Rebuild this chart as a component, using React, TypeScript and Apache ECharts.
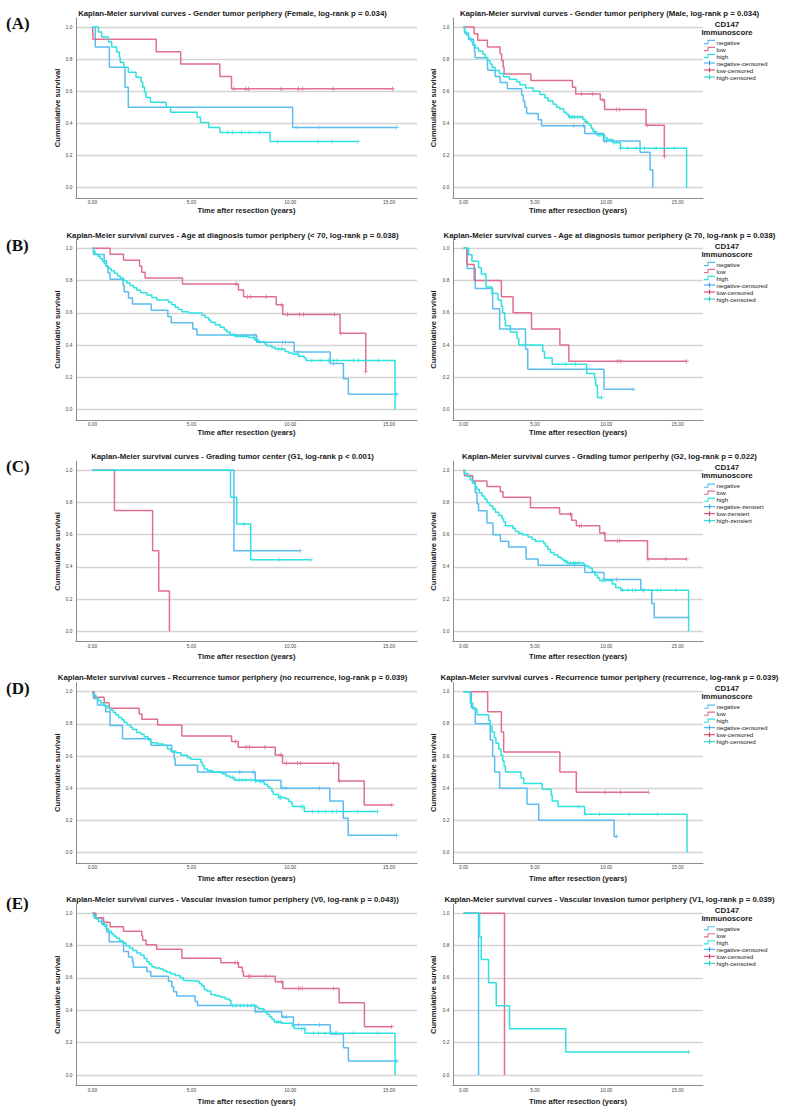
import React, { useEffect, useRef } from "react";
import * as echarts from "echarts";

type Pt = [number, number];

// ---------- texts ----------
const panelTitles = [
  "Kaplan-Meier survival curves - Gender tumor periphery (Female, log-rank p = 0.034)",
  "Kaplan-Meier survival curves - Gender tumor periphery (Male, log-rank p = 0.034)",
  "Kaplan-Meier survival curves - Age at diagnosis tumor periphery (< 70, log-rank p = 0.038)",
  "Kaplan-Meier survival curves - Age at diagnosis tumor periphery (\u2265 70, log-rank p = 0.038)",
  "Kaplan-Meier survival curves - Grading tumor center (G1, log-rank p < 0.001)",
  "Kaplan-Meier survival curves - Grading tumor periperhy (G2, log-rank p = 0.022)",
  "Kaplan-Meier survival curves - Recurrence tumor periphery (no recurrence, log-rank p = 0.039)",
  "Kaplan-Meier survival curves - Recurrence tumor periphery (recurrence, log-rank p = 0.039)",
  "Kaplan-Meier survival curves - Vascular invasion tumor periphery (V0, log-rank p = 0.043))",
  "Kaplan-Meier survival curves - Vascular invasion tumor periphery (V1, log-rank p = 0.039)",
];
const rowLetters = ["(A)", "(B)", "(C)", "(D)", "(E)"];
const legendTitle = ["CD147", "Immunoscore"];
const legendLabels = ["negative", "low", "high", "negative-censored", "low-censored", "high-censored"];
const legendLabelsDe = ["negative", "low", "high", "negative-zensiert", "low-zensiert", "high-zensiert"];
const xName = "Time after resection (years)";
const yName = "Cummulative survival";
const xTicks = [0, 5, 10, 15];
const yTicks = [0, 0.2, 0.4, 0.6, 0.8, 1.0];

// ---------- data: step points [time, survival] and censored times ----------
// (A) Female
const aFNeg: Pt[] = [[0,1],[0.14,0.875],[0.85,0.75],[1.64,0.625],[1.81,0.5],[10.12,0.375],[15.37,0.375]];
const aFNegC = [10.37, 11.44, 15.37];
const aFLow: Pt[] = [[0,1],[0.03,0.923],[3.22,0.846],[4.46,0.769],[6.44,0.692],[7.03,0.615],[15.17,0.615]];
const aFLowC = [7.15, 7.75, 7.88, 9.54, 10.42, 10.63, 12.17, 15.17];
const aFHigh: Pt[] = [[0,1],[0.3,0.969],[0.46,0.938],[0.81,0.906],[0.97,0.875],[1.22,0.844],[1.36,0.812],[1.4,0.781],[1.58,0.75],[1.81,0.719],[2.2,0.688],[2.46,0.656],[2.54,0.625],[2.63,0.594],[2.71,0.562],[2.93,0.531],[3.73,0.5],[3.95,0.469],[5.29,0.438],[5.46,0.406],[5.88,0.375],[6.44,0.344],[8.98,0.287],[13.42,0.287]];
const aFHighC = [6.83, 7.08, 7.54, 7.92, 8.44, 9.37, 11.41, 12.12, 13.42];
// (A) Male
const aMNeg: Pt[] = [[0,1],[0.07,0.962],[0.35,0.923],[0.7,0.885],[0.76,0.846],[0.81,0.808],[1.67,0.769],[1.7,0.731],[2.21,0.692],[2.56,0.654],[3.07,0.615],[4.07,0.577],[4.19,0.538],[4.3,0.5],[4.42,0.462],[5.23,0.423],[5.47,0.385],[8.49,0.337],[9.81,0.29],[12.37,0.22],[13.07,0.11],[13.26,0]];
const aMNegC = [7.72, 8.42, 9.9, 10.0];
const aMLow: Pt[] = [[0,1],[0.74,0.958],[1.0,0.917],[1.67,0.875],[2.56,0.833],[2.67,0.792],[2.78,0.75],[2.84,0.708],[4.72,0.667],[7.63,0.625],[7.86,0.583],[9.58,0.547],[9.88,0.486],[12.79,0.389],[14.07,0.194]];
const aMLowC = [8.26, 9.02, 9.77, 10.7, 10.93, 12.86, 14.07];
const aMHigh: Pt[] = [[0,1],[0.07,0.97],[0.19,0.95],[0.35,0.93],[0.51,0.91],[0.65,0.89],[0.81,0.87],[1.05,0.85],[1.35,0.83],[1.51,0.81],[1.7,0.79],[1.86,0.77],[2.0,0.75],[2.21,0.73],[2.51,0.71],[2.79,0.69],[3.21,0.675],[3.72,0.66],[3.95,0.64],[4.35,0.62],[4.88,0.6],[5.35,0.58],[5.7,0.56],[5.93,0.54],[6.28,0.52],[6.51,0.5],[6.74,0.49],[7.02,0.47],[7.21,0.455],[7.37,0.44],[8.36,0.425],[8.53,0.41],[8.7,0.4],[8.81,0.39],[8.95,0.37],[9.07,0.35],[9.3,0.33],[9.88,0.31],[10.07,0.3],[10.47,0.28],[11.0,0.245],[15.63,0.245],[15.63,0]];
const aMHighC = [7.44, 7.56, 7.67, 7.79, 7.98, 8.14, 8.3, 8.58, 9.19, 9.42, 9.53, 9.65, 10.5, 11.0, 11.51, 12.09, 12.67, 13.49, 14.77];
// (B) < 70
const bLNeg: Pt[] = [[0,1],[0.05,0.962],[0.59,0.923],[0.7,0.885],[0.78,0.846],[0.89,0.808],[1.55,0.769],[1.6,0.731],[1.82,0.692],[2.02,0.654],[2.97,0.615],[3.81,0.577],[3.98,0.538],[5.07,0.5],[5.28,0.462],[8.3,0.417],[10.2,0.357],[12.02,0.285],[12.69,0.19],[12.94,0.095],[15.39,0.095]];
const bLNegC = [8.2, 9.62, 9.77, 10.38, 12.19, 15.39];
const bLLow: Pt[] = [[0,1],[0.89,0.963],[1.57,0.926],[2.38,0.889],[2.49,0.852],[2.66,0.815],[4.55,0.778],[7.38,0.741],[7.64,0.7],[9.29,0.65],[9.62,0.59],[12.52,0.473],[13.82,0.236]];
const bLLowC = [7.26, 7.84, 8.0, 8.78, 9.57, 9.86, 10.47, 10.67, 12.24, 12.56, 13.82];
const bLHigh: Pt[] = [[0,1],[0.05,0.98],[0.13,0.965],[0.27,0.95],[0.39,0.935],[0.51,0.92],[0.59,0.905],[0.69,0.89],[0.81,0.875],[0.94,0.86],[1.11,0.845],[1.26,0.83],[1.4,0.815],[1.57,0.8],[1.74,0.785],[1.9,0.77],[2.07,0.755],[2.24,0.74],[2.44,0.725],[2.75,0.71],[3.0,0.695],[3.25,0.68],[3.84,0.665],[4.01,0.65],[4.18,0.635],[4.35,0.62],[4.52,0.607],[4.85,0.599],[5.53,0.585],[5.7,0.57],[5.87,0.555],[5.98,0.541],[6.2,0.525],[6.46,0.51],[6.66,0.494],[6.79,0.48],[6.96,0.465],[7.21,0.455],[7.89,0.446],[8.22,0.43],[8.39,0.42],[8.73,0.405],[8.82,0.395],[9.07,0.385],[9.24,0.376],[9.74,0.36],[9.91,0.35],[10.13,0.343],[10.42,0.33],[10.7,0.32],[10.8,0.304],[15.3,0.304],[15.3,0]];
const bLHighC = [7.13, 7.3, 7.47, 7.64, 7.8, 8.14, 8.29, 8.46, 9.4, 9.57, 10.45, 11.09, 11.51, 11.93, 12.19, 12.36, 13.2, 13.45, 14.46];
// (B) >= 70
const bRNeg: Pt[] = [[0,1],[0.26,0.875],[0.82,0.75],[2.04,0.625],[2.53,0.5],[4.34,0.375],[4.5,0.25],[9.84,0.125],[11.88,0.125]];
const bRNegC = [11.88];
const bRLow: Pt[] = [[0,1],[0.23,0.9],[0.75,0.8],[2.65,0.7],[3.47,0.6],[4.76,0.5],[6.75,0.4],[7.38,0.3],[15.63,0.3]];
const bRLowC = [10.78, 11.02, 15.63];
const bRHigh: Pt[] = [[0,1],[0.35,0.96],[0.59,0.92],[1.05,0.88],[1.24,0.84],[1.57,0.76],[1.99,0.72],[2.41,0.68],[2.65,0.64],[2.74,0.6],[2.88,0.56],[2.93,0.52],[3.28,0.48],[3.75,0.44],[3.87,0.4],[5.55,0.36],[5.67,0.32],[6.21,0.28],[8.63,0.224],[9.19,0.187],[9.26,0.149],[9.38,0.075],[9.68,0.075]];
const bRHighC = [7.15, 7.85, 9.68];
// (C) G1
const cLNeg: Pt[] = [[0,1],[7.15,0.5],[10.5,0.5]];
const cLNegC = [10.5];
const cLLow: Pt[] = [[0,1],[1.11,0.75],[3.04,0.5],[3.35,0.25],[3.89,0]];
const cLLowC: number[] = [];
const cLHigh: Pt[] = [[0,1],[6.98,0.833],[7.29,0.667],[8.0,0.444],[11.04,0.444]];
const cLHighC = [7.66, 9.43, 11.04];
// (C) G2
const cRNeg: Pt[] = [[0,1],[0.07,0.966],[0.63,0.931],[0.82,0.862],[0.94,0.793],[1.05,0.749],[1.64,0.673],[2.06,0.6],[2.58,0.559],[3.16,0.524],[4.38,0.449],[5.23,0.41],[8.5,0.365],[9.84,0.321],[12.42,0.255],[13.19,0.172],[13.36,0.086],[15.77,0.086]];
const cRNegC = [7.78, 10.73, 15.77];
const cRLow: Pt[] = [[0,1],[0.07,0.967],[0.63,0.933],[1.64,0.9],[2.58,0.867],[2.77,0.833],[4.69,0.767],[6.73,0.729],[7.57,0.69],[7.9,0.656],[9.54,0.61],[9.91,0.563],[12.89,0.449],[15.63,0.449]];
const cRLowC = [7.5, 8.14, 8.26, 9.84, 10.78, 10.95, 12.93, 14.18, 15.63];
const cRHigh: Pt[] = [[0,1],[0.05,0.98],[0.3,0.96],[0.47,0.94],[0.63,0.92],[0.82,0.9],[0.94,0.88],[1.1,0.86],[1.29,0.84],[1.48,0.82],[1.64,0.8],[1.83,0.78],[2.04,0.76],[2.23,0.74],[2.46,0.72],[2.7,0.7],[2.81,0.68],[2.93,0.656],[3.45,0.64],[3.63,0.62],[3.87,0.607],[4.15,0.6],[4.52,0.585],[4.8,0.57],[5.04,0.559],[5.62,0.545],[5.74,0.53],[5.9,0.51],[6.09,0.49],[6.33,0.475],[6.61,0.46],[6.84,0.45],[6.98,0.44],[7.15,0.435],[7.27,0.425],[8.44,0.414],[8.55,0.405],[8.79,0.393],[9.02,0.37],[9.21,0.35],[9.38,0.331],[9.54,0.315],[10.43,0.294],[10.66,0.272],[11.02,0.255],[15.77,0.255],[15.77,0]];
const cRHighC = [7.15, 7.31, 7.5, 7.69, 7.85, 8.04, 9.73, 9.91, 11.13, 11.53, 11.84, 12.07, 12.54, 12.66, 13.59, 13.83, 14.88];
// (D) no recurrence
const dLNeg: Pt[] = [[0,1],[0.05,0.958],[0.25,0.917],[0.67,0.875],[0.89,0.79],[1.52,0.708],[2.95,0.667],[4.01,0.625],[4.13,0.583],[4.18,0.542],[5.31,0.5],[8.23,0.45],[9.53,0.4],[12.0,0.321],[12.68,0.213],[12.93,0.107],[15.38,0.107]];
const dLNegC = [7.45, 8.13, 9.61, 9.78, 11.47, 15.38];
const dLLow: Pt[] = [[0,1],[0.08,0.966],[0.59,0.931],[0.84,0.897],[2.36,0.862],[2.5,0.828],[3.29,0.793],[4.52,0.724],[7.03,0.69],[7.37,0.655],[9.24,0.607],[9.61,0.555],[12.45,0.444],[13.74,0.296],[15.14,0.296]];
const dLLowC = [7.22, 7.76, 7.93, 8.72, 9.53, 9.81, 10.37, 10.51, 12.19, 12.49, 15.14];
const dLHigh: Pt[] = [[0,1],[0.03,0.98],[0.17,0.96],[0.3,0.945],[0.42,0.93],[0.56,0.913],[0.76,0.9],[0.89,0.885],[1.06,0.87],[1.18,0.855],[1.32,0.84],[1.48,0.825],[1.6,0.81],[1.74,0.795],[1.91,0.78],[2.02,0.765],[2.23,0.747],[2.45,0.735],[2.61,0.72],[2.82,0.7],[2.95,0.683],[3.29,0.675],[3.59,0.665],[3.79,0.644],[3.96,0.63],[4.22,0.62],[4.47,0.605],[4.81,0.59],[4.97,0.58],[5.48,0.56],[5.56,0.54],[5.65,0.52],[5.82,0.51],[6.07,0.5],[6.54,0.49],[6.75,0.476],[6.95,0.466],[7.17,0.451],[8.18,0.445],[8.43,0.44],[8.68,0.424],[8.85,0.41],[8.94,0.4],[9.07,0.379],[9.14,0.36],[9.41,0.342],[9.75,0.335],[9.92,0.317],[10.07,0.305],[10.12,0.286],[10.71,0.255],[14.42,0.255]];
const dLHighC = [7.08, 7.25, 7.42, 7.59, 7.76, 8.01, 8.26, 8.52, 9.44, 9.5, 9.55, 10.54, 10.62, 11.13, 11.43, 11.77, 12.14, 12.34, 13.41, 14.42];
// (D) recurrence
const dRNeg: Pt[] = [[0,1],[0.54,0.9],[0.82,0.8],[1.87,0.7],[2.04,0.6],[2.18,0.5],[2.53,0.4],[4.45,0.3],[5.27,0.2],[10.55,0.1],[10.73,0.1]];
const dRNegC = [10.73];
const dRLow: Pt[] = [[0,1],[1.69,0.875],[2.65,0.75],[2.81,0.625],[6.75,0.5],[7.9,0.375],[12.94,0.375]];
const dRLowC = [9.91, 11.01, 12.94];
const dRHigh: Pt[] = [[0,1],[0.47,0.929],[0.65,0.893],[0.94,0.857],[1.76,0.821],[1.87,0.786],[1.99,0.75],[2.16,0.714],[2.27,0.679],[2.46,0.643],[2.62,0.607],[2.74,0.571],[2.84,0.536],[2.93,0.5],[4.03,0.464],[4.22,0.429],[5.51,0.393],[6.14,0.357],[6.21,0.321],[6.63,0.286],[8.48,0.238],[15.66,0.238],[15.66,0]];
const dRHighC = [8.04, 8.55, 9.54, 11.6, 13.59];
// (E) V0
const eLNeg: Pt[] = [[0,1],[0.1,0.97],[0.47,0.93],[0.72,0.885],[0.84,0.824],[1.57,0.764],[1.82,0.73],[2.02,0.7],[2.07,0.666],[2.75,0.64],[2.95,0.611],[3.84,0.58],[4.01,0.545],[4.1,0.515],[4.26,0.488],[5.19,0.455],[5.31,0.43],[8.22,0.391],[9.57,0.359],[10.16,0.311],[12.02,0.254],[12.69,0.168],[12.94,0.086],[15.39,0.086]];
const eLNegC = [8.26, 9.66, 9.8, 10.42, 11.48, 15.39];
const eLLow: Pt[] = [[0,1],[0.17,0.972],[0.56,0.944],[0.89,0.917],[1.57,0.889],[2.49,0.861],[2.54,0.833],[2.71,0.806],[3.24,0.778],[4.52,0.722],[6.49,0.694],[7.38,0.667],[7.58,0.64],[7.63,0.611],[9.24,0.576],[9.62,0.535],[12.47,0.447],[13.75,0.299],[15.13,0.299]];
const eLLowC = [7.21, 7.33, 7.89, 8.0, 8.76, 9.57, 10.42, 10.5, 10.63, 12.19, 15.13];
const eLHigh: Pt[] = [[0,1],[0.05,0.98],[0.19,0.965],[0.3,0.95],[0.47,0.935],[0.59,0.92],[0.69,0.905],[0.81,0.89],[0.94,0.875],[1.06,0.86],[1.2,0.845],[1.37,0.83],[1.53,0.816],[1.7,0.8],[1.87,0.785],[2.04,0.77],[2.24,0.755],[2.44,0.74],[2.61,0.72],[2.75,0.7],[2.87,0.685],[3.0,0.67],[3.17,0.662],[3.42,0.655],[3.59,0.645],[3.76,0.635],[3.96,0.625],[4.18,0.615],[4.43,0.6],[4.6,0.584],[4.85,0.58],[5.41,0.565],[5.53,0.55],[5.65,0.529],[5.78,0.52],[5.98,0.498],[6.2,0.49],[6.46,0.482],[6.71,0.47],[6.93,0.461],[7.0,0.43],[8.28,0.42],[8.39,0.41],[8.65,0.4],[8.73,0.39],[8.82,0.375],[8.95,0.36],[9.07,0.345],[9.19,0.328],[9.57,0.32],[10.11,0.303],[10.2,0.287],[10.75,0.258],[15.3,0.258],[15.3,0]];
const eLHighC = [7.1, 7.26, 7.47, 7.64, 7.84, 8.06, 8.18, 9.32, 9.4, 9.49, 10.58, 10.7, 11.17, 11.43, 11.76, 12.1, 12.27, 12.35, 13.2, 14.43];
// (E) V1
const eRNeg: Pt[] = [[0,1],[1.05,0]];
const eRNegC: number[] = [];
const eRLow: Pt[] = [[0,1],[2.87,0]];
const eRLowC: number[] = [];
const eRHigh: Pt[] = [[0,1],[1.12,0.857],[1.24,0.714],[1.75,0.571],[2.29,0.429],[3.22,0.286],[7.16,0.143],[15.75,0.143]];
const eRHighC = [15.75];

// ---------- styling ----------
const FONT = "'Liberation Sans', Arial, sans-serif";
const COL_NEG = "#5bbdf0";
const COL_LOW = "#e0708f";
const COL_HIGH = "#2ee2e0";
const CEN_NEG = "#2fa2e6";
const CEN_LOW = "#d2325f";
const CEN_HIGH = "#12cccc";
const CROSS = "path://M4.3,0H5.7V10H4.3ZM0,4.3H10V5.7H0Z";

const rowOne = [27, 248.3, 470.3, 691.7, 913.3];
const rowZero = [187.7, 409.5, 631.3, 852.5, 1075];
const rowTitleY = [13, 235, 456.7, 677.7, 899.3];
const rowLetterY = [23.5, 245, 466.7, 688, 903.3];
const rowXNameGap = [7.5, 7.7, 10.5, 12.2, 11.8];

const panels = [
  { neg: aFNeg, negC: aFNegC, low: aFLow, lowC: aFLowC, high: aFHigh, highC: aFHighC },
  { neg: aMNeg, negC: aMNegC, low: aMLow, lowC: aMLowC, high: aMHigh, highC: aMHighC },
  { neg: bLNeg, negC: bLNegC, low: bLLow, lowC: bLLowC, high: bLHigh, highC: bLHighC },
  { neg: bRNeg, negC: bRNegC, low: bRLow, lowC: bRLowC, high: bRHigh, highC: bRHighC },
  { neg: cLNeg, negC: cLNegC, low: cLLow, lowC: cLLowC, high: cLHigh, highC: cLHighC },
  { neg: cRNeg, negC: cRNegC, low: cRLow, lowC: cRLowC, high: cRHigh, highC: cRHighC },
  { neg: dLNeg, negC: dLNegC, low: dLLow, lowC: dLLowC, high: dLHigh, highC: dLHighC },
  { neg: dRNeg, negC: dRNegC, low: dRLow, lowC: dRLowC, high: dRHigh, highC: dRHighC },
  { neg: eLNeg, negC: eLNegC, low: eLLow, lowC: eLLowC, high: eLHigh, highC: eLHighC },
  { neg: eRNeg, negC: eRNegC, low: eRLow, lowC: eRLowC, high: eRHigh, highC: eRHighC },
];

function survivalAt(steps: Pt[], t: number): number {
  let v = steps[0][1];
  for (const [x, y] of steps) {
    if (x <= t) v = y;
    else break;
  }
  return v;
}

function textEl(text: string, x: number, y: number, size: number, weight: string, align: string, family = FONT, fill = "#1a1a1a") {
  return {
    type: "text",
    x,
    y,
    silent: true,
    style: {
      text,
      fill,
      fontSize: size,
      fontWeight: weight,
      fontFamily: family,
      align,
      verticalAlign: "middle",
      textAlign: align,
      textVerticalAlign: "middle",
    },
  };
}

function buildOption() {
  const grid: any[] = [];
  const xAxis: any[] = [];
  const yAxis: any[] = [];
  const series: any[] = [];
  const graphic: any[] = [];

  panels.forEach((p, i) => {
    const row = Math.floor(i / 2);
    const col = i % 2;
    const one = rowOne[row];
    const zero = rowZero[row];
    const h = zero - one;
    grid.push({
      left: col ? 453 : 76,
      width: col ? 250 : 341,
      top: one - 0.056 * h,
      height: 1.12 * h,
      containLabel: false,
    });
    xAxis.push({
      type: "value",
      gridIndex: i,
      min: col ? -0.74 : -0.835,
      max: col ? 16.78 : 16.41,
      name: xName,
      nameLocation: "middle",
      nameGap: rowXNameGap[row],
      nameTextStyle: { fontFamily: FONT, fontWeight: "bold", fontSize: 7.5, color: "#1a1a1a" },
      axisLine: { show: true, onZero: false, lineStyle: { color: "#8c8c8c", width: 1 } },
      axisTick: { show: false, customValues: xTicks },
      axisLabel: {
        customValues: xTicks,
        formatter: (v: number) => v.toFixed(2),
        fontSize: 4.8,
        fontFamily: FONT,
        color: "#444",
        margin: 2.5,
      },
      splitLine: { show: false },
    });
    yAxis.push({
      type: "value",
      gridIndex: i,
      min: -0.064,
      max: 1.056,
      name: yName,
      nameLocation: "middle",
      nameRotate: 90,
      nameGap: col ? 15.5 : 14.5,
      nameTextStyle: { fontFamily: FONT, fontWeight: "bold", fontSize: 7.6, color: "#1a1a1a" },
      axisLine: { show: true, onZero: false, lineStyle: { color: "#8c8c8c", width: 1 } },
      axisTick: { show: false, customValues: yTicks },
      axisLabel: {
        customValues: yTicks,
        formatter: (v: number) => v.toFixed(1),
        fontSize: 4.8,
        fontFamily: FONT,
        color: "#444",
        margin: 3.5,
      },
      splitLine: { show: true, lineStyle: { color: "#d4d4d4", width: 1.3 } },
    });

    const lines: [Pt[], string][] = [
      [p.neg, COL_NEG],
      [p.low, COL_LOW],
      [p.high, COL_HIGH],
    ];
    lines.forEach(([d, c]) => {
      series.push({
        type: "line",
        xAxisIndex: i,
        yAxisIndex: i,
        step: "end",
        data: d,
        showSymbol: false,
        symbol: "none",
        silent: true,
        lineStyle: { color: c, width: 1.5 },
      });
    });
    const cens: [number[], Pt[], string][] = [
      [p.negC, p.neg, CEN_NEG],
      [p.lowC, p.low, CEN_LOW],
      [p.highC, p.high, CEN_HIGH],
    ];
    cens.forEach(([ts, steps, c]) => {
      series.push({
        type: "scatter",
        xAxisIndex: i,
        yAxisIndex: i,
        data: ts.map((t) => [t, survivalAt(steps, t)]),
        symbol: CROSS,
        symbolSize: 4.5,
        silent: true,
        itemStyle: { color: c },
      });
    });

    // title
    graphic.push(textEl(panelTitles[i], col ? 609.5 : 232.5, rowTitleY[row], 7.8, "bold", "center"));

    // legend for right-hand panels
    if (col === 1) {
      const labels = row === 2 ? legendLabelsDe : legendLabels;
      const ly = rowTitleY[row] + 11;
      const children: any[] = [];
      children.push(textEl(legendTitle[0], 23, 0, 7.8, "bold", "center"));
      children.push(textEl(legendTitle[1], 23, 8.2, 7.8, "bold", "center"));
      const icCols = [COL_NEG, COL_LOW, COL_HIGH, CEN_NEG, CEN_LOW, CEN_HIGH];
      labels.forEach((lab, k) => {
        const yy = 18 + 7 * k;
        if (k < 3) {
          children.push({
            type: "polyline",
            silent: true,
            shape: { points: [[0, yy + 1.6], [4, yy + 1.6], [4, yy - 1.6], [11, yy - 1.6]] },
            style: { stroke: icCols[k], lineWidth: 1.1, fill: "none" },
          });
        } else {
          children.push({
            type: "line",
            silent: true,
            shape: { x1: 0, y1: yy, x2: 11, y2: yy },
            style: { stroke: icCols[k], lineWidth: 1 },
          });
          children.push({
            type: "line",
            silent: true,
            shape: { x1: 5.5, y1: yy - 2.4, x2: 5.5, y2: yy + 2.4 },
            style: { stroke: icCols[k], lineWidth: 1.1 },
          });
        }
        children.push(textEl(lab, 12.5, yy, 6.2, "normal", "left"));
      });
      graphic.push({ type: "group", x: 704, y: ly, children });
    }
  });

  rowLetters.forEach((l, r) => {
    graphic.push(textEl(l, 6, rowLetterY[r], 17, "bold", "left", "'Liberation Serif', 'Times New Roman', serif", "#111"));
  });

  return {
    animation: false,
    backgroundColor: "#ffffff",
    grid,
    xAxis,
    yAxis,
    series,
    graphic,
  };
}

export default function App() {
  const ref = useRef<HTMLDivElement>(null);
  useEffect(() => {
    if (!ref.current) return;
    const chart = echarts.init(ref.current, undefined, { renderer: "svg" });
    chart.setOption(buildOption() as any);
    return () => chart.dispose();
  }, []);
  return (
    <div
      ref={ref}
      style={{ position: "absolute", left: 0, top: 0, width: 789, height: 1113, background: "#fff" }}
    />
  );
}
